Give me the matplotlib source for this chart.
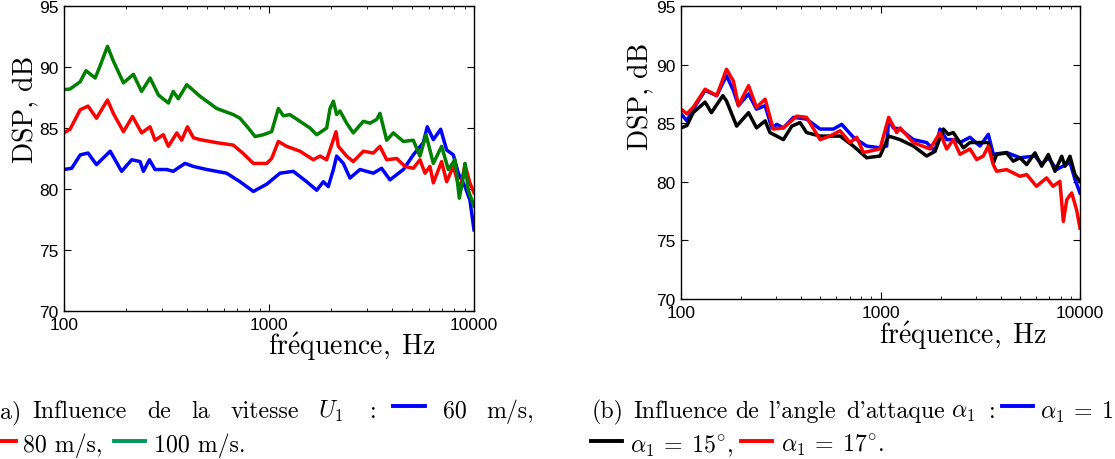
import matplotlib
matplotlib.use('Agg')
import matplotlib.pyplot as plt
from matplotlib.lines import Line2D

plt.rcParams['mathtext.fontset'] = 'cm'

# (a) influence de la vitesse
freq_60 = [100, 109, 120, 131, 144, 168, 191, 214, 235, 244, 261, 278, 317, 341, 389, 428,
           497, 621, 722, 839, 975, 1132, 1314, 1527, 1709, 1841, 1946, 2061, 2138, 2305,
           2483, 2778, 3228, 3543, 3892, 4524, 5057, 5659, 5917, 6335, 6879, 7357, 7929,
           8387, 9039, 9551, 10000]
dsp_60 = [81.6, 81.7, 82.8, 82.95, 82.0, 83.1, 81.45, 82.4, 82.25, 81.45, 82.4, 81.6, 81.6,
          81.45, 82.1, 81.85, 81.6, 81.3, 80.6, 79.8, 80.4, 81.3, 81.45, 80.6, 79.9, 80.6,
          80.2, 81.6, 82.7, 82.1, 80.9, 81.6, 81.3, 81.7, 80.75, 81.6, 82.8, 83.8, 85.1,
          84.05, 84.9, 83.2, 82.8, 81.3, 80.2, 79.1, 76.65]

freq_80 = [100, 107, 120, 131, 144, 163, 174, 195, 216, 239, 263, 278, 305, 323, 355, 375,
           400, 428, 461, 556, 670, 750, 839, 975, 1030, 1111, 1219, 1416, 1645, 1774, 1911,
           2061, 2123, 2179, 2392, 2577, 2884, 3228, 3478, 3750, 4197, 4605, 5057, 5452,
           5769, 6099, 6335, 6953, 7357, 7929, 8547, 9039, 9551, 10000]
dsp_80 = [84.6, 84.9, 86.5, 86.8, 85.8, 87.3, 86.2, 84.7, 85.95, 84.6, 85.1, 84.0, 84.45,
          83.5, 84.6, 84.0, 85.1, 84.2, 84.05, 83.8, 83.6, 82.9, 82.1, 82.1, 82.5, 83.9,
          83.5, 83.1, 82.4, 82.7, 82.4, 84.05, 84.7, 83.5, 82.7, 82.25, 83.1, 82.95, 83.5,
          82.4, 82.5, 81.85, 81.7, 82.4, 81.3, 81.85, 80.5, 82.25, 80.6, 81.85, 79.9, 82.0,
          80.5, 79.7]

freq_100 = [100, 107, 120, 128, 142, 150, 163, 174, 195, 218, 239, 263, 289, 323, 341, 361,
            397, 420, 461, 556, 670, 722, 793, 855, 938, 1030, 1111, 1175, 1265, 1416, 1585,
            1709, 1911, 1985, 2061, 2138, 2220, 2392, 2577, 2884, 3110, 3351, 3478, 3750,
            4043, 4524, 5057, 5452, 5834, 6335, 6953, 7494, 8078, 8478, 8872, 9039, 9380,
            10000]
dsp_100 = [88.15, 88.2, 88.8, 89.7, 89.1, 90.1, 91.7, 90.5, 88.7, 89.4, 88.0, 89.1, 87.7,
           87.05, 88.0, 87.4, 88.55, 88.2, 87.6, 86.6, 86.1, 85.8, 85.0, 84.3, 84.45, 84.7,
           86.6, 86.0, 86.1, 85.55, 85.0, 84.45, 85.0, 86.6, 87.2, 86.1, 86.4, 85.4, 84.6,
           85.55, 85.4, 85.7, 86.2, 84.0, 84.6, 83.9, 84.0, 82.7, 84.45, 82.1, 83.5, 81.6,
           82.4, 79.25, 81.0, 82.1, 79.9, 78.6]

# (b) influence de l'angle d'attaque
freq_13 = [100, 107, 115, 132, 151, 169, 183, 194, 218, 239, 264, 285, 302, 326, 366, 426,
           498, 580, 639, 731, 852, 994, 1074, 1099, 1159, 1252, 1461, 1703, 1876, 1987,
           2146, 2318, 2503, 2810, 3152, 3471, 3678, 4290, 5003, 5949, 6425, 6940, 7638,
           8251, 8911, 9439, 10000]
dsp_13 = [85.8, 85.2, 86.2, 87.8, 87.35, 89.05, 87.8, 86.5, 87.5, 86.2, 86.5, 84.6, 84.9,
          84.6, 85.5, 85.35, 84.5, 84.5, 84.9, 83.8, 83.05, 82.9, 83.05, 85.35, 84.6, 84.5,
          83.6, 83.35, 82.6, 84.5, 83.6, 83.6, 83.35, 83.8, 83.05, 84.05, 82.35, 82.5,
          82.05, 82.2, 81.5, 82.05, 81.05, 81.35, 81.65, 80.2, 79.05]

freq_15 = [100, 107, 115, 132, 142, 162, 169, 190, 218, 239, 264, 279, 326, 359, 395, 426,
           498, 627, 731, 852, 994, 1099, 1252, 1461, 1703, 1876, 2065, 2188, 2318, 2602,
           2810, 3471, 3678, 3819, 4285, 4630, 5003, 5405, 5945, 6425, 6937, 7495, 8098,
           8410, 8911, 9440, 10000]
dsp_15 = [84.6, 84.8, 85.9, 86.8, 85.9, 87.35, 86.9, 84.75, 85.9, 84.6, 85.2, 84.2, 83.6,
          84.75, 85.05, 84.2, 83.9, 83.9, 83.05, 82.05, 82.2, 83.9, 83.6, 83.05, 82.2, 82.6,
          84.5, 84.05, 84.2, 82.9, 83.35, 83.35, 81.6, 82.33, 82.47, 81.76, 82.05, 81.47,
          82.47, 81.33, 82.33, 80.9, 82.18, 81.33, 82.18, 80.6, 80.04]

freq_17 = [100, 107, 115, 132, 151, 169, 183, 194, 218, 239, 264, 290, 326, 380, 426, 498,
           558, 627, 703, 760, 820, 994, 1099, 1205, 1252, 1461, 1771, 1987, 2146, 2318,
           2503, 2810, 3034, 3277, 3471, 3673, 3819, 4285, 5003, 5405, 6050, 6800, 7330,
           7930, 8250, 8590, 9090, 9620, 10000]
dsp_17 = [86.2, 85.8, 86.35, 87.9, 87.35, 89.6, 88.6, 86.5, 88.2, 86.35, 87.05, 84.5, 84.6,
          85.6, 85.5, 83.6, 83.9, 84.35, 83.35, 83.8, 82.5, 82.8, 85.5, 84.2, 84.6, 83.35,
          82.8, 84.2, 82.8, 83.6, 82.35, 82.8, 81.9, 82.2, 83.05, 81.47, 80.9, 81.04, 80.47,
          80.62, 79.62, 80.33, 79.62, 80.04, 76.62, 78.48, 79.05, 77.6, 76.05]

y_ticks = [70, 75, 80, 85, 90, 95]
x_ticks = [100, 1000, 10000]
x_tick_labels = ['100', '1000', '10000']

GREEN = '#008000'
tick_font = 'Liberation Sans'
LW = 2.5


def style_axes(ax):
    ax.set_xscale('log')
    ax.set_xlim(100, 10000)
    ax.set_ylim(70, 95)
    ax.set_yticks(y_ticks)
    ax.set_xticks(x_ticks)
    ax.set_xticklabels(x_tick_labels)
    ax.tick_params(which='both', direction='in', top=True, right=True)
    ax.tick_params(which='major', length=5, labelsize=12.5, pad=4)
    ax.tick_params(which='minor', length=2.5)
    for lab in ax.get_xticklabels() + ax.get_yticklabels():
        lab.set_fontfamily(tick_font)
    for sp in ax.spines.values():
        sp.set_linewidth(1.0)


fig = plt.figure(figsize=(11.15, 4.6), dpi=100)

ax1 = fig.add_axes([0.0574, 0.3217, 0.3677, 0.663])
ax1.plot(freq_60, dsp_60, color='blue', lw=LW)
ax1.plot(freq_80, dsp_80, color='red', lw=LW)
ax1.plot(freq_100, dsp_100, color=GREEN, lw=LW)
style_axes(ax1)

ax2 = fig.add_axes([0.6108, 0.3478, 0.3578, 0.637])
ax2.plot(freq_13, dsp_13, color='blue', lw=LW)
ax2.plot(freq_15, dsp_15, color='black', lw=LW)
ax2.plot(freq_17, dsp_17, color='red', lw=LW)
style_axes(ax2)

# axis labels (serif, computer modern)
ylab = 'DSP, dB'
xlab = r'$\mathrm{fr\acute{e}quence,\;Hz}$'
fig.text(26 / 1115, 1 - 109 / 460, ylab, family='cmr10', fontsize=20,
         rotation=90, ha='center', va='center')
fig.text(641 / 1115, 1 - 96 / 460, ylab, family='cmr10', fontsize=20,
         rotation=90, ha='center', va='center')
fig.text(352 / 1115, 1 - 330 / 460, xlab, fontsize=20, ha='center', va='top')
fig.text(963 / 1115, 1 - 319 / 460, xlab, fontsize=20, ha='center', va='top')


# captions (justified text: words placed one by one)
def ctext(x, y, s):
    fig.text(x / 1115, 1 - y / 460, s, family='cmr10', fontsize=17.2,
             ha='left', va='baseline')


def cline(x0, x1, y, color):
    fig.add_artist(Line2D([x0 / 1115, x1 / 1115], [1 - y / 460, 1 - y / 460],
                          color=color, lw=2.8, transform=fig.transFigure))


base1, base2 = 418, 452
ctext(0, base1, 'a)')
ctext(32, base1, 'Influence')
ctext(147, base1, 'de')
ctext(191, base1, 'la')
ctext(230, base1, 'vitesse')
ctext(318, base1, r'$U_1$')
ctext(370, base1, ':')
cline(393, 425, 407, 'blue')
ctext(443, base1, '60')
ctext(486, base1, 'm/s,')
cline(-5, 16, 442, 'red')
ctext(23, base2, '80 m/s,')
cline(114, 145, 442, '#00995a')
ctext(154, base2, '100 m/s.')

ctext(592, base1, '(b)')
ctext(633, base1, 'Influence')
ctext(735, base1, 'de')
ctext(768, base1, "l'angle")
ctext(846, base1, "d'attaque")
ctext(951, base1, r'$\alpha_1$')
ctext(989, base1, ':')
cline(1002, 1033, 407, 'blue')
ctext(1040, base1, r'$\alpha_1 \:=\: 13^{\circ}$,')
cline(591, 622, 442, 'black')
ctext(630, base2, r'$\alpha_1 \:=\: 15^{\circ}$,')
cline(741, 772, 442, 'red')
ctext(781, base2, r'$\alpha_1 \:=\: 17^{\circ}$.')

fig.savefig('out.png', dpi=100)
